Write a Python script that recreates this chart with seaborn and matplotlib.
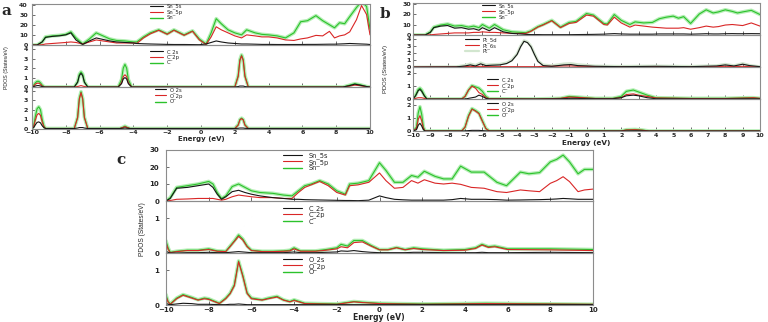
import matplotlib
matplotlib.use('Agg')
import matplotlib.pyplot as plt
import seaborn as sns
from matplotlib.ticker import MultipleLocator
from matplotlib.lines import Line2D

# ---------------- Panel a ----------------
a_sn_x = [-10, -9.7, -9.4, -9.2, -8.8, -8.4, -8.0, -7.7, -7.4, -7.0, -6.6, -6.2, -5.8, -5.4, -5.0, -4.5, -4.0, -3.8, -3.4, -3.0,
          -2.5, -2.0, -1.6, -1.0, -0.5, -0.1, 0.3, 0.6, 0.9, 1.2, 1.6, 2.0, 2.4, 2.7, 3.2, 3.6, 4.0, 4.5, 5.0, 5.5,
          5.9, 6.3, 6.8, 7.2, 7.6, 7.9, 8.2, 8.5, 8.8, 9.2, 9.5, 9.8, 10]
a_sn_5s = [0, 0, 3, 7.5, 8.5, 9, 10, 12, 5, 0.5, 4, 7, 5.5, 4, 3, 2.5, 2, 1.5, 1.2, 1,
           0.8, 0.6, 0.5, 0.5, 0.4, 0.3, 1, 2.5, 4, 3, 2, 1.5, 1, 1, 0.8, 0.6, 0.6, 0.5, 0.5, 0.5,
           0.5, 0.6, 0.6, 0.7, 0.8, 0.8, 1, 1.2, 1.5, 1.2, 1, 0.8, 0.5]
a_sn_5p = [0, 0, 0.3, 1, 1.5, 2, 2.5, 3, 2.5, 1, 3, 5, 4, 3, 2, 2, 2, 1.5, 7, 11,
           14.5, 10.5, 14.5, 9.5, 13.5, 5, 0.5, 8, 18, 15, 12, 9, 7, 10, 9, 8, 8, 7, 5, 4.5,
           6, 7, 9.5, 9, 13.5, 7, 9, 10, 13, 25, 39, 30, 10]
a_sn_tot = [0, 0, 3, 8, 9, 9.5, 10.5, 13, 7, 1, 6, 12, 9, 6, 4.5, 4, 3, 3, 8, 12,
            15, 11, 15, 10, 14, 6, 1, 12, 26, 21, 15, 12, 10, 15, 12, 10.5, 10, 9, 7, 12,
            23, 24, 29, 24, 20, 17, 22, 21, 28, 37, 43, 38, 16]

a_c_x = [-10, -9.9, -9.8, -9.7, -9.6, -9.5, -9.4, -9.25, -7.5, -7.3, -7.2, -7.1, -7.0, -6.9, -6.7,
         -4.9, -4.7, -4.6, -4.5, -4.4, -4.3, -4.1, 2.0, 2.2, 2.3, 2.4, 2.5, 2.6, 2.8, 8.4, 8.8, 9.1, 9.4, 9.8, 10]
a_c_2s = [0, 0.05, 0.1, 0.15, 0.15, 0.1, 0.05, 0, 0, 0.5, 1.2, 1.45, 1.2, 0.5, 0,
          0, 0.35, 0.85, 1.0, 0.85, 0.35, 0, 0, 0.05, 0.1, 0.1, 0.1, 0.05, 0, 0, 0.15, 0.3, 0.2, 0.05, 0]
a_c_2p = [0, 0.1, 0.3, 0.4, 0.4, 0.3, 0.1, 0, 0, 0.05, 0.1, 0.15, 0.1, 0.05, 0,
          0, 0.45, 1.1, 1.3, 1.1, 0.45, 0, 0, 1.1, 2.8, 3.3, 2.8, 1.1, 0, 0, 0.1, 0.2, 0.15, 0.02, 0]
a_c_tot = [0, 0.2, 0.45, 0.6, 0.6, 0.45, 0.2, 0, 0, 0.55, 1.35, 1.6, 1.35, 0.55, 0,
           0, 0.8, 2.0, 2.4, 2.0, 0.8, 0, 0, 1.2, 2.9, 3.4, 2.9, 1.2, 0, 0, 0.2, 0.35, 0.25, 0.05, 0]

a_o_x = [-10, -9.9, -9.8, -9.7, -9.6, -9.5, -9.4, -9.3, -9.2, -7.5, -7.3, -7.2, -7.1, -7.0, -6.9, -6.7,
         -4.8, -4.6, -4.5, -4.4, -4.2, 2.0, 2.2, 2.3, 2.4, 2.5, 2.6, 2.8, 10]
a_o_2s = [0, 0.1, 0.4, 0.65, 0.7, 0.6, 0.3, 0.1, 0, 0, 0.05, 0.1, 0.1, 0.1, 0.05, 0,
          0, 0.03, 0.05, 0.03, 0, 0, 0.02, 0.05, 0.05, 0.05, 0.02, 0, 0]
a_o_2p = [0, 0.2, 0.9, 1.45, 1.6, 1.4, 0.7, 0.2, 0, 0, 1.15, 3.1, 3.8, 3.1, 1.15, 0,
          0, 0.12, 0.2, 0.12, 0, 0, 0.35, 0.9, 1.05, 0.9, 0.35, 0, 0]
a_o_tot = [0, 0.3, 1.3, 2.1, 2.3, 2.0, 1.0, 0.3, 0, 0, 1.2, 3.2, 3.9, 3.2, 1.2, 0,
           0, 0.15, 0.25, 0.15, 0, 0, 0.4, 0.95, 1.1, 0.95, 0.4, 0, 0]

# ---------------- Panel b ----------------
b_sn_x = [-10, -9.3, -9.0, -8.8, -8.4, -8.0, -7.6, -7.2, -6.8, -6.5, -6.2, -6.0, -5.6, -5.3, -4.8, -4.3, -3.8, -3.5, -3.2, -2.8,
          -2.5, -2.0, -1.5, -1.0, -0.6, 0.0, 0.4, 1.0, 1.2, 1.6, 2.0, 2.5, 2.8, 3.3, 3.8, 4.2, 4.6, 5.0, 5.3, 5.6,
          6.0, 6.5, 6.9, 7.3, 7.6, 8.0, 8.4, 8.7, 9.0, 9.5, 10]
b_sn_5s = [0, 0, 2.5, 7, 8.5, 9, 6.5, 7, 5.5, 6, 4.5, 7, 4, 7, 3, 1.5, 1, 0.6, 0.4, 0.4,
           0.3, 0.3, 0.3, 0.3, 0.4, 0.5, 0.6, 0.8, 1, 1.3, 1, 0.8, 0.8, 0.8, 0.8, 1, 1, 1, 1, 1,
           0.8, 1, 1.2, 1, 1, 1.2, 1.3, 1.2, 1.2, 1.3, 1.2]
b_sn_5p = [0, 0, 0.2, 0.5, 1, 1.5, 2, 2, 2, 2.5, 2.5, 3, 2.5, 2.5, 2, 1.5, 1.5, 1.5, 3.5, 7.5,
           9.5, 13.5, 7, 11, 12, 19, 18, 10, 9.5, 17, 11.5, 7.5, 9.5, 8.5, 7.5, 7, 6.5, 6.5, 6.5, 7,
           5.5, 7, 8.5, 7.5, 8, 9.5, 10, 9.5, 9, 11.5, 8.5]
b_sn_tot = [0, 0, 3, 7.5, 9.5, 10.5, 8.5, 9, 7.5, 8.5, 7, 10, 6.5, 10, 5, 3, 2.5, 2.2, 4, 8,
            10, 14, 7.5, 12, 13, 20.5, 19, 11, 10.5, 19.5, 14, 10, 12.5, 11.5, 12, 15.5, 17, 18, 16, 17.5,
            11, 20, 24, 21, 22, 24, 22.5, 21, 22, 23.5, 19.5]

b_pt_x = [-10, -7.5, -7.0, -6.7, -6.4, -6.1, -5.8, -5.5, -5.0, -4.6, -4.3, -4.0, -3.8, -3.6, -3.4, -3.2, -3.0,
          -2.8, -2.5, -2.0, -1.3, -0.9, -0.5, 0, 0.5, 2, 4, 6, 7.5, 8.0, 8.5, 9.0, 9.4, 10]
b_pt_5d = [0, 0.02, 0.15, 0.3, 0.15, 0.45, 0.2, 0.25, 0.3, 0.5, 0.9, 1.8, 2.9, 3.7, 3.5, 2.9, 1.8,
           0.8, 0.2, 0.1, 0.3, 0.35, 0.2, 0.15, 0.1, 0.05, 0.1, 0.05, 0.15, 0.3, 0.15, 0.4, 0.2, 0.05]
b_pt_6s = [0, 0.02, 0.05, 0.1, 0.05, 0.1, 0.05, 0.05, 0.05, 0.05, 0.05, 0.05, 0.05, 0.05, 0.05, 0.05, 0.05,
           0.05, 0.1, 0.1, 0.15, 0.15, 0.1, 0.1, 0.05, 0.05, 0.05, 0.05, 0.05, 0.1, 0.05, 0.1, 0.05, 0.02]
b_pt_tot = [0, 0.05, 0.25, 0.45, 0.25, 0.6, 0.3, 0.35, 0.4, 0.6, 1.0, 1.9, 3.0, 3.8, 3.6, 3.0, 1.9,
            0.9, 0.3, 0.2, 0.45, 0.5, 0.35, 0.25, 0.15, 0.1, 0.15, 0.1, 0.2, 0.4, 0.2, 0.5, 0.25, 0.05]

b_c_x = [-10, -9.85, -9.7, -9.6, -9.5, -9.35, -9.2, -7.2, -7.0, -6.8, -6.6, -6.4, -6.2, -6.0, -5.8, -5.6, -3,
         -1.5, -1.0, -0.5, 0, 0.5, 1.5, 2.0, 2.3, 2.7, 3.0, 3.5, 4.0, 6, 8, 9.3, 9.6, 10]
b_c_2s = [0, 0.25, 0.65, 0.75, 0.6, 0.25, 0, 0, 0, 0.05, 0.1, 0.15, 0.3, 0.2, 0.05, 0, 0,
          0.02, 0.05, 0.05, 0.03, 0.02, 0.02, 0.1, 0.25, 0.3, 0.25, 0.1, 0.02, 0.01, 0.01, 0.02, 0.02, 0.01]
b_c_2p = [0, 0.05, 0.1, 0.1, 0.1, 0.05, 0, 0, 0.2, 0.7, 1.0, 0.85, 0.5, 0.35, 0.1, 0.02, 0,
          0.05, 0.15, 0.12, 0.08, 0.04, 0.04, 0.1, 0.35, 0.4, 0.3, 0.2, 0.08, 0.04, 0.04, 0.08, 0.1, 0.05]
b_c_tot = [0, 0.3, 0.75, 0.85, 0.7, 0.3, 0, 0, 0.2, 0.7, 1.05, 0.95, 0.85, 0.6, 0.2, 0.02, 0,
           0.05, 0.2, 0.15, 0.1, 0.05, 0.05, 0.2, 0.6, 0.7, 0.55, 0.3, 0.1, 0.05, 0.05, 0.1, 0.1, 0.05]

b_o_x = [-10, -9.8, -9.7, -9.6, -9.5, -9.4, -9.3, -7.2, -7.0, -6.8, -6.6, -6.4, -6.2, -6.0, -5.8, -5.6,
         2.0, 2.3, 2.8, 3.2, 3.6, 10]
b_o_2s = [0, 0.1, 0.45, 0.6, 0.4, 0.1, 0, 0, 0.01, 0.03, 0.05, 0.05, 0.05, 0.03, 0.01, 0,
          0, 0.01, 0.02, 0.01, 0, 0]
b_o_2p = [0, 0.2, 0.9, 1.2, 0.8, 0.2, 0, 0, 0.3, 1.15, 1.7, 1.55, 1.35, 0.75, 0.18, 0,
          0, 0.08, 0.1, 0.06, 0, 0]
b_o_tot = [0, 0.3, 1.4, 1.9, 1.3, 0.3, 0, 0, 0.3, 1.2, 1.75, 1.6, 1.4, 0.8, 0.2, 0,
           0, 0.1, 0.12, 0.08, 0, 0]

# ---------------- Panel c ----------------
c_sn_x = [-10, -9.8, -9.5, -9.0, -8.5, -8.0, -7.8, -7.6, -7.4, -7.2, -6.9, -6.6, -6.3, -6.0, -5.6, -5.0, -4.5, -4.1, -3.8, -3.5,
          -3.2, -2.8, -2.4, -2.0, -1.6, -1.4, -1.0, -0.5, 0.0, 0.3, 0.7, 1.1, 1.5, 1.8, 2.1, 2.6, 3.0, 3.4, 3.8, 4.3,
          4.9, 5.5, 5.95, 6.6, 7.0, 7.5, 8.0, 8.3, 8.6, 8.9, 9.3, 9.6, 10]
c_sn_5s = [0, 1.5, 7.5, 8, 9, 10, 8, 4, 1, 2.5, 5.5, 6.3, 5, 4, 3, 2, 1.5, 1, 1, 0.8,
           0.7, 0.6, 0.5, 0.4, 0.3, 0.3, 0.2, 0.5, 3, 2, 1, 0.7, 0.5, 0.5, 0.5, 0.5, 0.5, 0.8, 1.5, 1,
           1, 0.8, 0.5, 0.6, 0.7, 0.8, 1, 1.2, 1.5, 1.3, 1, 1, 1]
c_sn_5p = [0, 0.3, 1, 1.2, 1.5, 1.5, 1.5, 1, 0.5, 1, 2.5, 3.5, 3, 2.5, 2, 2, 1.5, 1.5, 5, 8,
           9.5, 11.5, 9, 5, 3.5, 9, 9.5, 11, 16.5, 12, 7.5, 8, 12, 10.5, 12.5, 10.5, 10, 10.5, 9.8, 8,
           7.5, 5.5, 5, 6.5, 6, 5.5, 10.4, 12, 14.3, 11.4, 5.5, 6.5, 7]
c_sn_tot = [0, 2, 8, 9, 10, 11.5, 10, 5, 1.5, 3, 8.5, 10, 8, 6, 5, 4.5, 3.5, 3, 6, 9,
            10, 12, 10, 6, 4, 10, 10.5, 12, 22.5, 18, 11, 11, 15, 14, 17.5, 14.5, 13, 13, 20.5, 17,
            17, 11, 9, 17, 16, 16.7, 23, 24.5, 27, 23, 16, 18.6, 18.6]

c_c_x = [-10, -9.9, -9.8, -9.5, -9.0, -8.5, -8.0, -7.6, -7.2, -7.0, -6.8, -6.6, -6.4, -6.2, -6.0, -5.5, -5.0, -4.5, -4.2, -4.0,
         -3.7, -3.0, -2.5, -2.0, -1.8, -1.5, -1.2, -0.8, -0.4, 0.0, 0.4, 0.8, 1.2, 1.6, 2.0, 3.0, 4.0, 4.5, 4.8, 5.1,
         5.4, 6.0, 8.0, 10]
c_c_2s = [0.05, 0.02, 0.0, 0.0, 0.01, 0.01, 0.02, 0.01, 0.01, 0.02, 0.03, 0.04, 0.03, 0.02, 0.01, 0.01, 0.01, 0.01, 0.02, 0.03,
          0.01, 0.01, 0.02, 0.03, 0.06, 0.05, 0.07, 0.04, 0.02, 0.01, 0.01, 0.01, 0.01, 0.02, 0.02, 0.01, 0.01, 0.01, 0.02, 0.01,
          0.01, 0.01, 0.02, 0.01]
c_c_2p = [0.3, 0.1, 0.01, 0.04, 0.07, 0.07, 0.1, 0.05, 0.04, 0.18, 0.33, 0.48, 0.37, 0.18, 0.07, 0.04, 0.04, 0.05, 0.06, 0.12,
          0.05, 0.05, 0.08, 0.12, 0.18, 0.15, 0.3, 0.32, 0.2, 0.09, 0.09, 0.15, 0.09, 0.13, 0.1, 0.07, 0.08, 0.13, 0.23, 0.16,
          0.18, 0.1, 0.09, 0.07]
c_c_tot = [0.35, 0.15, 0.02, 0.05, 0.08, 0.08, 0.12, 0.06, 0.05, 0.2, 0.35, 0.52, 0.4, 0.2, 0.08, 0.05, 0.05, 0.06, 0.08, 0.15,
           0.06, 0.06, 0.1, 0.15, 0.25, 0.2, 0.36, 0.36, 0.22, 0.1, 0.1, 0.16, 0.1, 0.15, 0.12, 0.08, 0.1, 0.15, 0.25, 0.18,
           0.2, 0.12, 0.12, 0.1]

c_o_x = [-10, -9.9, -9.8, -9.5, -9.2, -8.8, -8.5, -8.2, -8.0, -7.5, -7.2, -7.0, -6.8, -6.6, -6.4, -6.2, -6.0, -5.5, -5.2, -4.8,
         -4.5, -4.2, -4.0, -3.5, -2.0, -1.2, -0.8, 0, 2, 5, 10]
c_o_2s = [0.05, 0.02, 0.01, 0.03, 0.05, 0.04, 0.02, 0.02, 0.02, 0.01, 0.01, 0.02, 0.02, 0.03, 0.02, 0.01, 0.01, 0.01, 0.01, 0.01,
          0.01, 0.01, 0.01, 0.01, 0.01, 0.01, 0.01, 0.01, 0.01, 0.01, 0.01]
c_o_2p = [0.25, 0.08, 0.02, 0.18, 0.28, 0.2, 0.14, 0.18, 0.16, 0.04, 0.18, 0.32, 0.55, 1.25, 0.82, 0.33, 0.18, 0.14, 0.18, 0.23,
          0.14, 0.09, 0.13, 0.04, 0.02, 0.09, 0.07, 0.04, 0.02, 0.04, 0.02]
c_o_tot = [0.3, 0.1, 0.03, 0.2, 0.3, 0.22, 0.15, 0.2, 0.18, 0.05, 0.2, 0.34, 0.58, 1.27, 0.85, 0.35, 0.2, 0.15, 0.2, 0.25,
           0.15, 0.1, 0.15, 0.05, 0.03, 0.1, 0.08, 0.05, 0.03, 0.05, 0.02]

# ---------------- Figure ----------------
sns.set_style('white')
plt.rcParams['font.family'] = ['DejaVu Sans']

W, H = 768, 322
fig = plt.figure(figsize=(W / 100, H / 100), dpi=100)

GREEN = '#2cc22c'
HALO = '#b4eeb4'
RED = '#d92626'
BLACK = '#151515'
PALE = '#d2e6cf'
SPINE = '#8c8c8c'


def add_ax(x0, x1, y0, y1):
    return fig.add_axes([x0 / W, 1 - y1 / H, (x1 - x0) / W, (y1 - y0) / H])


def draw(ax, x, curves, ylim, yticks, xmaj, xmin, show_x, leg, tick_fs, ypad, xpad=1.2):
    for y, lab, col in curves:
        if col == GREEN:
            sns.lineplot(x=x, y=y, ax=ax, color=HALO, lw=2.6, legend=False, sort=False)
    for y, lab, col in curves:
        if col == PALE:
            sns.lineplot(x=x, y=y, ax=ax, color=PALE, lw=2.0, legend=False, sort=False)
    for col_order in (GREEN, RED, BLACK):
        for y, lab, col in curves:
            if col == col_order:
                sns.lineplot(x=x, y=y, ax=ax, color=col, lw=0.8, legend=False, sort=False)
    handles = []
    for y, lab, col in curves:
        if col == GREEN:
            handles.append(Line2D([], [], color=GREEN, lw=1.0))
        elif col == PALE:
            handles.append(Line2D([], [], color=PALE, lw=1.6))
        else:
            handles.append(Line2D([], [], color=col, lw=0.8))
    labels = [c[1] for c in curves]
    lx, ly, fs, hl, htp, ls = leg
    ax.legend(handles, labels, loc='upper left', bbox_to_anchor=(lx / W, 1 - ly / H),
              bbox_transform=fig.transFigure, frameon=False, fontsize=fs, handlelength=hl,
              handletextpad=htp, labelspacing=ls, borderpad=0, borderaxespad=0)
    ax.set_xlim(-10, 10)
    ax.set_ylim(*ylim)
    ax.set_yticks(yticks)
    ax.xaxis.set_major_locator(MultipleLocator(xmaj))
    if xmin:
        ax.xaxis.set_minor_locator(MultipleLocator(xmin))
    ax.tick_params(axis='both', which='both', direction='in', color='#555555', width=0.6)
    ax.tick_params(axis='x', which='major', length=3, labelsize=tick_fs, pad=xpad)
    ax.tick_params(axis='x', which='minor', length=2)
    ax.tick_params(axis='y', which='major', length=2.5, labelsize=tick_fs, pad=ypad)
    ax.tick_params(bottom=True, left=True)
    for lab in ax.get_yticklabels() + ax.get_xticklabels():
        lab.set_fontweight('bold')
    if not show_x:
        ax.tick_params(axis='x', labelbottom=False)
    for s in ax.spines.values():
        s.set_color(SPINE)
        s.set_linewidth(0.8)
    ax.set_xlabel('')
    ax.set_ylabel('')
    ax.patch.set_alpha(0)


TFS = 4.5

# panel a
a_ax1 = add_ax(32, 370, 4, 45)
a_ax2 = add_ax(32, 370, 45, 87)
a_ax3 = add_ax(32, 370, 87, 128.5)
draw(a_ax1, a_sn_x, [(a_sn_5s, 'Sn_5s', BLACK), (a_sn_5p, 'Sn_5p', RED), (a_sn_tot, 'Sn', GREEN)],
     (0, 40.5), [0, 10, 20, 30, 40], 2, 1, False, (150, 3.5, 3.8, 2.4, 0.7, 0.05), TFS, 3)
draw(a_ax2, a_c_x, [(a_c_2s, 'C_2s', BLACK), (a_c_2p, 'C_2p', RED), (a_c_tot, 'C', GREEN)],
     (0, 4.45), [0, 1, 2, 3, 4], 2, 1, False, (150, 49, 3.8, 2.4, 0.7, 0.0), TFS, 3)
draw(a_ax3, a_o_x, [(a_o_2s, 'O_2s', BLACK), (a_o_2p, 'O_2p', RED), (a_o_tot, 'O', GREEN)],
     (0, 4.4), [0, 1, 2, 3, 4], 2, 1, True, (155, 87, 3.8, 2.0, 0.7, 0.1), TFS, 3)

# panel b
b_ax1 = add_ax(413, 760, 3, 35)
b_ax2 = add_ax(413, 760, 35, 67)
b_ax3 = add_ax(413, 760, 67, 99)
b_ax4 = add_ax(413, 760, 99, 131)
draw(b_ax1, b_sn_x, [(b_sn_5s, 'Sn_5s', BLACK), (b_sn_5p, 'Sn_5p', RED), (b_sn_tot, 'Sn', GREEN)],
     (0, 30.5), [0, 10, 20, 30], 1, 0, False, (482, 3, 3.8, 2.4, 0.7, 0.05), TFS, 1.5)
draw(b_ax2, b_pt_x, [(b_pt_5d, 'Pt_5d', BLACK), (b_pt_6s, 'Pt_6s', RED), (b_pt_tot, 'Pt', PALE)],
     (0, 4.6), [0, 1, 2, 3, 4], 1, 0, False, (465, 37, 3.8, 2.7, 0.7, 0.05), TFS, 1.5)
draw(b_ax3, b_c_x, [(b_c_2s, 'C_2s', BLACK), (b_c_2p, 'C_2p', RED), (b_c_tot, 'C', GREEN)],
     (0, 2.5), [0, 1, 2], 1, 0, False, (487, 77, 3.8, 2.0, 0.7, 0.05), TFS, 1.5)
draw(b_ax4, b_o_x, [(b_o_2s, 'O_2s', BLACK), (b_o_2p, 'O_2p', RED), (b_o_tot, 'O', GREEN)],
     (0, 2.5), [0, 1, 2], 1, 0, True, (487, 101, 3.8, 2.0, 0.7, 0.05), TFS, 1.5)

# panel c
CFS = 5.0
c_ax1 = add_ax(166, 593, 150, 201)
c_ax2 = add_ax(166, 593, 201, 253)
c_ax3 = add_ax(166, 593, 253, 305)
draw(c_ax1, c_sn_x, [(c_sn_5s, 'Sn_5s', BLACK), (c_sn_5p, 'Sn_5p', RED), (c_sn_tot, 'Sn', GREEN)],
     (0, 30), [0, 10, 20, 30], 2, 1, False, (283, 152, 4.8, 2.9, 1.0, 0.0), CFS, 5)
draw(c_ax2, c_c_x, [(c_c_2s, 'C_2s', BLACK), (c_c_2p, 'C_2p', RED), (c_c_tot, 'C', GREEN)],
     (0, 1.5), [0, 1], 2, 1, False, (283, 205, 4.8, 2.9, 1.0, 0.0), CFS, 5)
draw(c_ax3, c_o_x, [(c_o_2s, 'O_2s', BLACK), (c_o_2p, 'O_2p', RED), (c_o_tot, 'O', GREEN)],
     (0, 1.5), [0, 1], 2, 1, True, (283, 256, 4.8, 2.9, 1.0, 0.0), CFS, 5, 1.6)

# axis titles
ylab_font = ['Liberation Sans Narrow', 'Liberation Sans', 'DejaVu Sans']
fig.text(7 / W, 1 - 68 / H, 'PDOS (States/eV)', rotation=90, ha='center', va='center', fontsize=3.8, family=ylab_font)
fig.text(386 / W, 1 - 69 / H, 'PDOS (States/eV)', rotation=90, ha='center', va='center', fontsize=4.2, family=ylab_font)
fig.text(143 / W, 1 - 229 / H, 'PDOS (States/eV)', rotation=90, ha='center', va='center', fontsize=4.8, family=ylab_font)
fig.text(201 / W, 1 - 138.5 / H, 'Energy (eV)', ha='center', va='center', fontsize=5, fontweight='bold')
fig.text(586 / W, 1 - 142.5 / H, 'Energy (eV)', ha='center', va='center', fontsize=5.2, fontweight='bold')
fig.text(379 / W, 1 - 321.5 / H, 'Energy (eV)', ha='center', va='bottom', fontsize=5.6, fontweight='bold')

# panel letters
fig.text(1 / W, 1 - 15 / H, 'a', ha='left', va='baseline', fontsize=11, fontweight='bold', family='DejaVu Serif')
fig.text(380 / W, 1 - 18 / H, 'b', ha='left', va='baseline', fontsize=11, fontweight='bold', family='DejaVu Serif')
fig.text(116 / W, 1 - 164 / H, 'c', ha='left', va='baseline', fontsize=11, fontweight='bold', family='DejaVu Serif')

fig.savefig('out.png', dpi=100, facecolor='white')
